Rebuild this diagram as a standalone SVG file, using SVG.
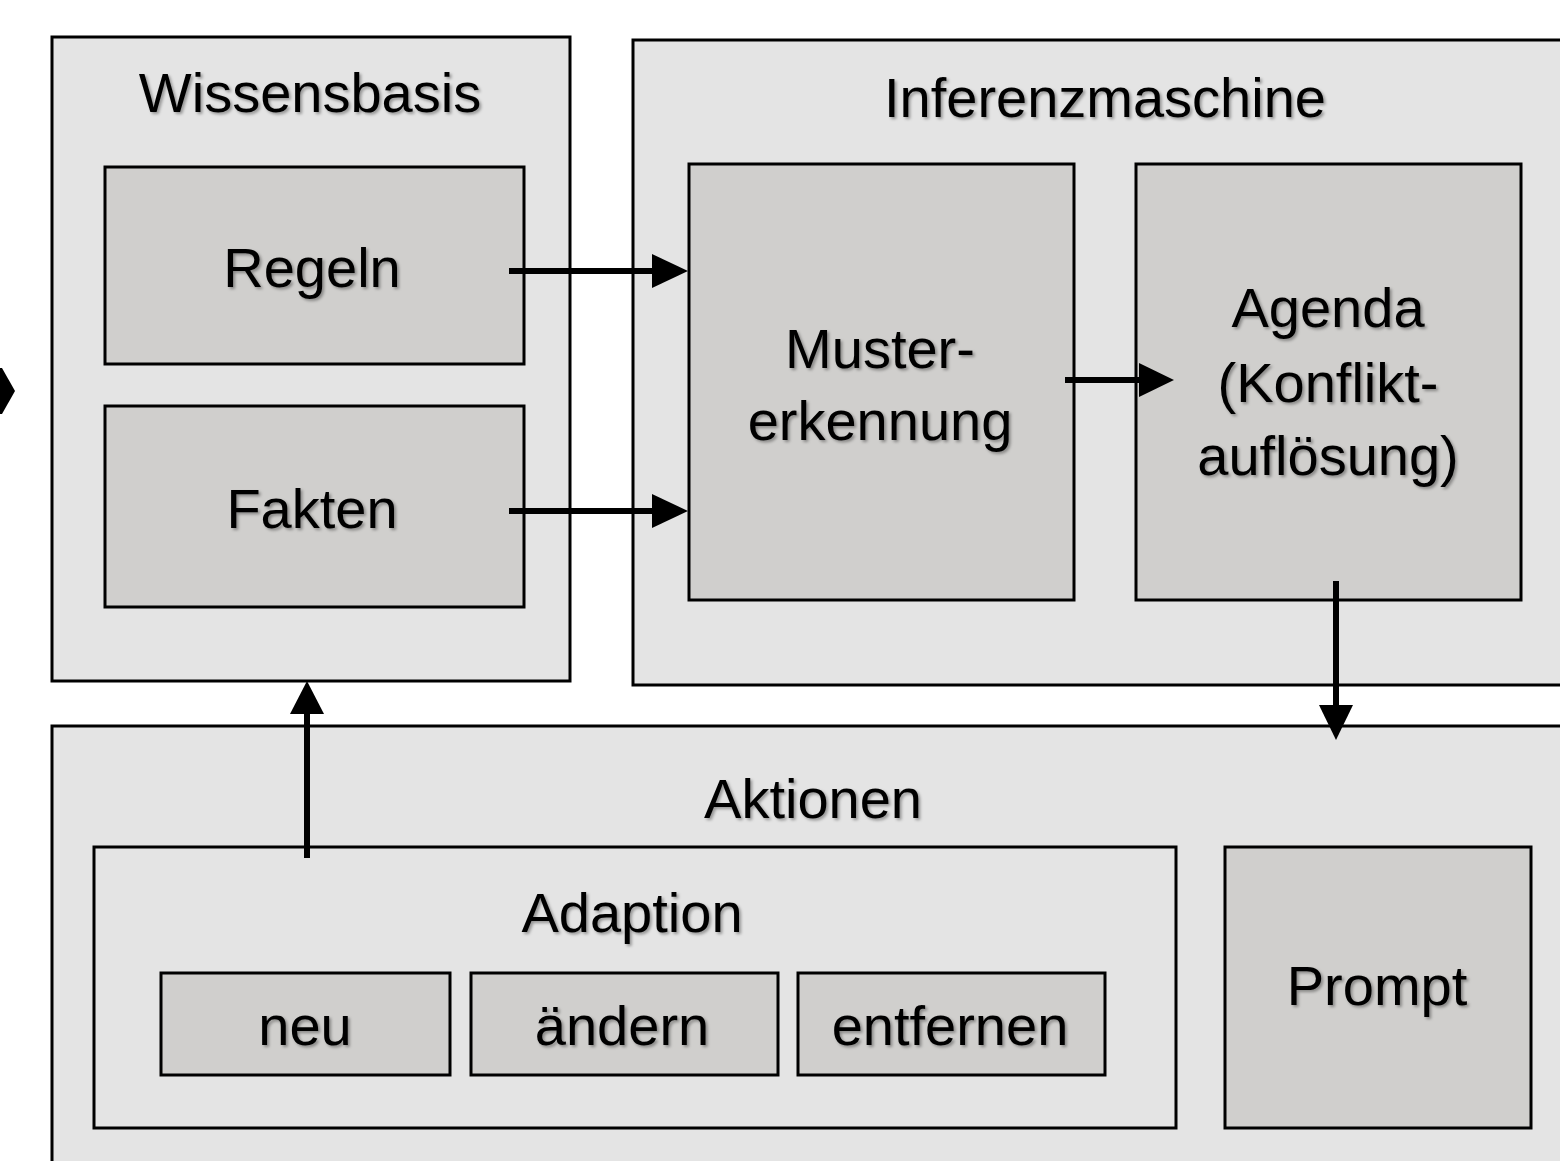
<svg xmlns="http://www.w3.org/2000/svg" width="1560" height="1161" viewBox="0 0 1560 1161">
<defs>
<style>
.outer{fill:#e4e4e4;stroke:#000;stroke-width:3}
.inner{fill:#d0cfcd;stroke:#000;stroke-width:3}
.t{font-family:"Liberation Sans",Arial,sans-serif;font-size:56px;fill:#000;text-anchor:middle;filter:url(#sh)}
.line{stroke:#000;stroke-width:6;fill:none}
.head{fill:#000}
</style>
<filter id="sh" x="-10%" y="-20%" width="120%" height="150%">
<feDropShadow dx="2" dy="2" stdDeviation="1.5" flood-color="#000" flood-opacity="0.35"/>
</filter>
</defs>
<rect width="1560" height="1161" fill="#fff"/>
<polygon points="0,368 2,368 15,391 2,414 0,414" fill="#000"/>
<g id="wissensbasis">
<rect class="outer" x="52" y="37" width="518" height="644"/>
<text class="t" x="310" y="112">Wissensbasis</text>
</g>
<g id="regeln">
<rect class="inner" x="105" y="167" width="419" height="197"/>
<text class="t" x="312" y="287">Regeln</text>
</g>
<g id="fakten">
<rect class="inner" x="105" y="406" width="419" height="201"/>
<text class="t" x="312" y="528">Fakten</text>
</g>
<g id="inferenzmaschine">
<rect class="outer" x="633" y="40" width="940" height="645"/>
<text class="t" x="1105" y="117">Inferenzmaschine</text>
</g>
<g id="mustererkennung">
<rect class="inner" x="689" y="164" width="385" height="436"/>
<text class="t" x="880" y="368">Muster-</text>
<text class="t" x="880" y="440">erkennung</text>
</g>
<g id="agenda">
<rect class="inner" x="1136" y="164" width="385" height="436"/>
<text class="t" x="1328" y="327">Agenda</text>
<text class="t" x="1328" y="402">(Konflikt-</text>
<text class="t" x="1328" y="475">auflösung)</text>
</g>
<g id="aktionen">
<rect class="outer" x="52" y="726" width="1530" height="460"/>
<text class="t" x="813" y="818">Aktionen</text>
</g>
<g id="adaption">
<rect class="outer" x="94" y="847" width="1082" height="281"/>
<text class="t" x="632" y="932">Adaption</text>
</g>
<g id="neu">
<rect class="inner" x="161" y="973" width="289" height="102"/>
<text class="t" x="305" y="1045">neu</text>
</g>
<g id="aendern">
<rect class="inner" x="471" y="973" width="307" height="102"/>
<text class="t" x="622" y="1045">ändern</text>
</g>
<g id="entfernen">
<rect class="inner" x="798" y="973" width="307" height="102"/>
<text class="t" x="950" y="1045">entfernen</text>
</g>
<g id="prompt">
<rect class="inner" x="1225" y="847" width="306" height="281"/>
<text class="t" x="1377" y="1005">Prompt</text>
</g>
<g id="connectors">
<line class="line" x1="509" y1="271" x2="656" y2="271"/>
<polygon class="head" points="652,254 688,271 652,288"/>
<line class="line" x1="509" y1="511" x2="656" y2="511"/>
<polygon class="head" points="652,494 688,511 652,528"/>
<line class="line" x1="1065" y1="380" x2="1142" y2="380"/>
<polygon class="head" points="1139,363 1174,380 1139,397"/>
<line class="line" x1="1336" y1="581" x2="1336" y2="708"/>
<polygon class="head" points="1319,705 1353,705 1336,740"/>
<line class="line" x1="307" y1="858" x2="307" y2="712"/>
<polygon class="head" points="290,714 324,714 307,681"/>
</g>
</svg>
